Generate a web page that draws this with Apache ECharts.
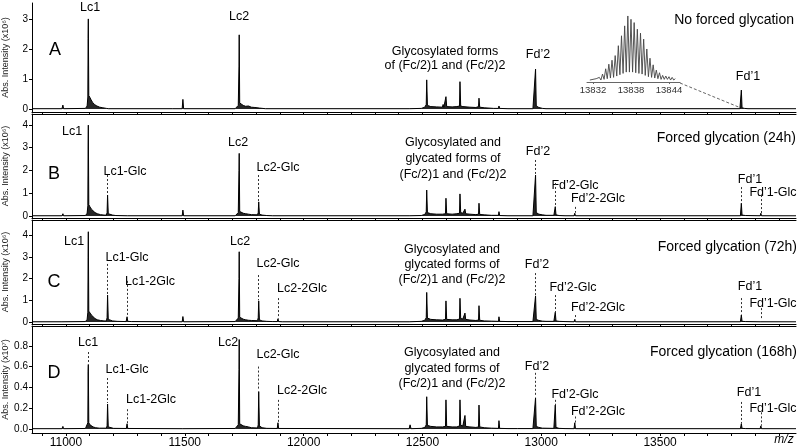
<!DOCTYPE html>
<html>
<head>
<meta charset="utf-8">
<script src="https://cdn.jsdelivr.net/npm/echarts@6/dist/echarts.min.js"></script>
<style>
  html, body { margin: 0; background: #fff; }
  #chart { width: 800px; height: 448px; }
</style>
</head>
<body>
<div id="chart"></div>
<script>
// m/z range shared by all four spectra
const MZ_MIN = 10857;
const MZ_MAX = 14072;
const mzLabels = [11000, 11500, 12000, 12500, 13000, 13500];
const mzTicks = [10900, 11000, 11100, 11200, 11300, 11400, 11500, 11600, 11700, 11800, 11900, 12000,
  12100, 12200, 12300, 12400, 12500, 12600, 12700, 12800, 12900, 13000, 13100, 13200, 13300, 13400,
  13500, 13600, 13700, 13800, 13900, 14000];

// spectra [m/z, intensity]
const specA = [
  [10858, 0.01],
  [10983, 0.01], [10987, 0.13], [10990, 0.01],
  [11082, 0.02], [11089, 0.1], [11092, 0.4], [11093, 2.35], [11094, 3.0], [11096, 0.45], [11101, 0.38],
  [11106, 0.3], [11112, 0.22], [11120, 0.15], [11130, 0.1], [11142, 0.06], [11155, 0.04], [11170, 0.02],
  [11174, 0.02], [11177, 0.05], [11180, 0.01],
  [11447, 0.01], [11450, 0.07], [11453, 0.01],
  [11489, 0.01], [11492, 0.32], [11495, 0.01],
  [11712, 0.01], [11720, 0.05], [11725, 0.12], [11728, 1.43], [11729, 2.47], [11731, 0.2], [11737, 0.14],
  [11746, 0.12], [11756, 0.09], [11768, 0.1], [11780, 0.06], [11795, 0.05], [11815, 0.03], [11840, 0.01],
  [12444, 0.01], [12448, 0.05], [12452, 0.01],
  [12495, 0.02], [12510, 0.06], [12516, 0.15], [12518, 0.97], [12521, 0.12], [12535, 0.08], [12560, 0.07],
  [12584, 0.06], [12587, 0.15], [12590, 0.06], [12597, 0.08], [12599, 0.41], [12602, 0.08], [12625, 0.07],
  [12645, 0.08], [12656, 0.1], [12658, 0.91], [12661, 0.1], [12670, 0.08], [12700, 0.06], [12725, 0.05],
  [12736, 0.08], [12738, 0.36], [12741, 0.06], [12760, 0.04], [12800, 0.02], [12820, 0.02], [12822, 0.1],
  [12825, 0.02], [12860, 0.01],
  [12965, 0.01], [12972, 0.06], [12976, 1.33], [12979, 0.1], [12990, 0.05], [13005, 0.02], [13020, 0.01],
  [13836, 0.01], [13839, 0.05], [13842, 0.63], [13845, 0.04], [13855, 0.02], [13870, 0.01],
  [14072, 0.01]
];

const specB = [
  [10858, 0.01],
  [10983, 0.01], [10987, 0.1], [10990, 0.01],
  [11082, 0.02], [11089, 0.12], [11092, 0.45], [11093, 2.94], [11094, 3.99], [11096, 0.5], [11101, 0.4],
  [11107, 0.3], [11114, 0.22], [11122, 0.15], [11132, 0.1], [11145, 0.06], [11160, 0.04],
  [11170, 0.04], [11173, 0.15], [11175, 0.92], [11178, 0.1], [11185, 0.07], [11196, 0.04], [11210, 0.02],
  [11258, 0.01], [11261, 0.05], [11264, 0.01],
  [11489, 0.01], [11492, 0.26], [11495, 0.01],
  [11712, 0.01], [11720, 0.05], [11725, 0.15], [11728, 2.0], [11729, 2.75], [11731, 0.2], [11737, 0.15],
  [11746, 0.12], [11756, 0.1], [11768, 0.08], [11780, 0.06],
  [11806, 0.05], [11809, 0.15], [11811, 0.62], [11814, 0.08], [11825, 0.04], [11845, 0.02], [11870, 0.01],
  [12444, 0.01], [12448, 0.05], [12452, 0.01],
  [12495, 0.02], [12510, 0.07], [12516, 0.18], [12518, 1.14], [12521, 0.15], [12535, 0.1], [12560, 0.08],
  [12584, 0.08], [12587, 0.12], [12590, 0.07], [12597, 0.1], [12599, 0.78], [12602, 0.1], [12625, 0.08],
  [12645, 0.1], [12656, 0.12], [12658, 0.97], [12661, 0.15], [12670, 0.12], [12677, 0.13], [12679, 0.3],
  [12682, 0.1], [12700, 0.08], [12725, 0.06], [12736, 0.08], [12738, 0.56], [12741, 0.07], [12760, 0.05],
  [12790, 0.03], [12820, 0.03], [12822, 0.19], [12825, 0.02], [12860, 0.01],
  [12965, 0.01], [12972, 0.08], [12976, 1.8], [12979, 0.15], [12990, 0.08], [13005, 0.05], [13020, 0.03],
  [13053, 0.03], [13056, 0.05], [13059, 0.41], [13062, 0.05], [13075, 0.02], [13100, 0.01],
  [13138, 0.01], [13141, 0.12], [13144, 0.01],
  [13838, 0.01], [13840, 0.05], [13842, 0.56], [13845, 0.04], [13860, 0.02],
  [13921, 0.01], [13924, 0.12], [13927, 0.01],
  [14072, 0.01]
];

const specC = [
  [10858, 0.01],
  [10983, 0.01], [10987, 0.1], [10990, 0.01],
  [11082, 0.02], [11089, 0.12], [11092, 0.45], [11093, 2.95], [11094, 4.15], [11096, 0.5], [11101, 0.42],
  [11107, 0.32], [11114, 0.24], [11122, 0.16], [11132, 0.1], [11145, 0.07], [11160, 0.05],
  [11170, 0.05], [11173, 0.2], [11175, 1.24], [11178, 0.12], [11185, 0.08], [11196, 0.05], [11215, 0.03],
  [11253, 0.02], [11255, 0.06], [11257, 0.24], [11260, 0.03], [11275, 0.02],
  [11489, 0.01], [11492, 0.25], [11495, 0.01],
  [11712, 0.02], [11720, 0.06], [11725, 0.18], [11728, 2.0], [11729, 3.23], [11731, 0.22], [11737, 0.16],
  [11746, 0.13], [11756, 0.1], [11768, 0.08], [11780, 0.07],
  [11806, 0.06], [11809, 0.2], [11811, 0.97], [11814, 0.1], [11825, 0.05], [11845, 0.03], [11870, 0.02],
  [11889, 0.02], [11892, 0.15], [11895, 0.02], [11910, 0.01],
  [12444, 0.01], [12448, 0.05], [12452, 0.01],
  [12495, 0.03], [12510, 0.08], [12516, 0.2], [12518, 1.36], [12521, 0.18], [12535, 0.12], [12560, 0.1],
  [12584, 0.09], [12587, 0.14], [12590, 0.08], [12597, 0.12], [12599, 0.97], [12602, 0.12], [12625, 0.1],
  [12645, 0.1], [12656, 0.14], [12658, 1.09], [12661, 0.16], [12670, 0.14], [12677, 0.15], [12679, 0.41],
  [12682, 0.12], [12700, 0.09], [12725, 0.07], [12736, 0.09], [12738, 0.75], [12741, 0.08], [12760, 0.05],
  [12790, 0.04], [12820, 0.03], [12822, 0.24], [12825, 0.03], [12860, 0.02],
  [12965, 0.02], [12972, 0.08], [12976, 1.2], [12979, 0.12], [12990, 0.07], [13005, 0.04], [13020, 0.03],
  [13053, 0.03], [13056, 0.06], [13059, 0.45], [13062, 0.05], [13075, 0.03], [13100, 0.02],
  [13138, 0.01], [13141, 0.12], [13144, 0.01],
  [13838, 0.01], [13840, 0.04], [13842, 0.32], [13845, 0.03], [13860, 0.02],
  [13921, 0.01], [13924, 0.1], [13927, 0.01],
  [14072, 0.01]
];

const specD = [
  [10858, 0.003],
  [10983, 0.003], [10987, 0.025], [10990, 0.003],
  [11082, 0.005], [11089, 0.02], [11092, 0.06], [11093, 0.55], [11094, 0.62], [11096, 0.06], [11101, 0.04],
  [11107, 0.03], [11114, 0.02], [11125, 0.012], [11140, 0.008],
  [11170, 0.008], [11173, 0.03], [11175, 0.24], [11178, 0.02], [11186, 0.012], [11200, 0.006],
  [11254, 0.005], [11257, 0.05], [11260, 0.005],
  [11489, 0.003], [11492, 0.02], [11495, 0.003],
  [11712, 0.005], [11720, 0.015], [11725, 0.04], [11728, 0.57], [11729, 0.86], [11731, 0.05], [11737, 0.035],
  [11746, 0.03], [11756, 0.025], [11768, 0.02], [11780, 0.012],
  [11806, 0.01], [11809, 0.04], [11811, 0.36], [11814, 0.03], [11825, 0.012], [11845, 0.006],
  [11889, 0.005], [11892, 0.06], [11895, 0.005],
  [12444, 0.003], [12448, 0.04], [12452, 0.003],
  [12495, 0.006], [12510, 0.015], [12516, 0.04], [12518, 0.31], [12521, 0.035], [12535, 0.025], [12560, 0.02],
  [12584, 0.02], [12587, 0.03], [12590, 0.02], [12597, 0.025], [12599, 0.28], [12602, 0.025], [12625, 0.02],
  [12645, 0.02], [12656, 0.03], [12658, 0.28], [12661, 0.035], [12670, 0.03], [12677, 0.035], [12679, 0.13],
  [12682, 0.025], [12700, 0.02], [12725, 0.015], [12736, 0.02], [12738, 0.23], [12741, 0.02], [12760, 0.012],
  [12790, 0.008], [12820, 0.006], [12822, 0.08], [12825, 0.006], [12860, 0.004],
  [12900, 0.004], [12903, 0.02], [12906, 0.004],
  [12965, 0.004], [12972, 0.02], [12976, 0.3], [12979, 0.025], [12990, 0.015], [13005, 0.008],
  [13053, 0.006], [13056, 0.015], [13059, 0.23], [13062, 0.015], [13075, 0.006], [13100, 0.004],
  [13138, 0.003], [13141, 0.06], [13144, 0.003],
  [13838, 0.003], [13840, 0.008], [13842, 0.05], [13845, 0.006], [13860, 0.004],
  [13921, 0.003], [13924, 0.03], [13927, 0.003],
  [14072, 0.003]
];

// isotope envelope of Fd'1 (inset, relative intensity)
const insetSpec = [
  [13831.5, 0.03], [13831.75, 0.02], [13832, 0.04], [13832.25, 0.02], [13832.5, 0.05], [13832.75, 0.03],
  [13833, 0.07], [13833.25, 0.03], [13833.5, 0.12], [13833.75, 0.04], [13834, 0.2], [13834.25, 0.05],
  [13834.5, 0.27], [13834.75, 0.06], [13835, 0.33], [13835.25, 0.07], [13835.5, 0.4], [13835.75, 0.09],
  [13836, 0.55], [13836.25, 0.11], [13836.5, 0.7], [13836.75, 0.13], [13837, 0.85], [13837.25, 0.15],
  [13837.5, 1.0], [13837.75, 0.15], [13838, 0.95], [13838.25, 0.15], [13838.5, 0.9], [13838.75, 0.14],
  [13839, 0.8], [13839.25, 0.13], [13839.5, 0.74], [13839.75, 0.12], [13840, 0.65], [13840.25, 0.1],
  [13840.5, 0.5], [13840.75, 0.08], [13841, 0.36], [13841.25, 0.07], [13841.5, 0.26], [13841.75, 0.06],
  [13842, 0.18], [13842.25, 0.05], [13842.5, 0.14], [13842.75, 0.04], [13843, 0.1], [13843.25, 0.04],
  [13843.5, 0.09], [13843.75, 0.04], [13844, 0.08], [13844.25, 0.03], [13844.5, 0.07], [13844.75, 0.03],
  [13845, 0.05]
];
const insetTicks = [13832, 13838, 13844];

// dashed leaders: [m/z, from, to]
const leadersB = [[11175, 1.8, 1.0], [11811, 1.8, 0.66], [12976, 2.46, 1.85], [13059, 1.45, 0.45],
  [13141, 0.4, 0.14], [13842, 1.27, 0.58], [13924, 0.92, 0.13]];
const leadersC = [[11175, 2.67, 1.26], [11257, 1.89, 0.26], [11811, 2.16, 1.0], [11892, 1.1, 0.16],
  [12976, 2.25, 1.22], [13059, 1.24, 0.46], [13141, 0.32, 0.13], [13842, 1.1, 0.34], [13924, 0.64, 0.11]];
const leadersD = [[11094, 0.74, 0.63], [11175, 0.49, 0.25], [11257, 0.19, 0.05], [11811, 0.6, 0.37],
  [11892, 0.28, 0.06], [12976, 0.54, 0.31], [13059, 0.28, 0.23], [13141, 0.12, 0.06], [13842, 0.26, 0.05],
  [13924, 0.16, 0.03]];

const yTicks = [[0, 1, 2, 3], [0, 1, 2, 3, 4], [0, 1, 2, 3, 4], [0, 0.2, 0.4, 0.6, 0.8]];
const yNames = ["Abs. Intensity (x10⁶)", "Abs. Intensity (x10⁶)", "Abs. Intensity (x10⁶)", "Abs. Intensity (x10⁷)"];

// annotation texts (pixel layout)
const annotations = [
  ["Lc1", 90, 8], ["Lc2", 239, 17], ["Glycosylated forms", 445, 52], ["of (Fc/2)1 and (Fc/2)2", 445, 66],
  ["Fd’2", 538, 55], ["Fd’1", 748, 77],
  ["Lc1", 72, 132], ["Lc1-Glc", 125, 172], ["Lc2", 238, 143], ["Lc2-Glc", 278, 168],
  ["Glycosylated and", 453, 143], ["glycated forms of", 453, 159], ["(Fc/2)1 and (Fc/2)2", 453, 175],
  ["Fd’2", 538, 152], ["Fd’2-Glc", 575, 186], ["Fd’2-2Glc", 598, 199], ["Fd’1", 750, 180], ["Fd’1-Glc", 773, 193],
  ["Lc1", 74, 242], ["Lc1-Glc", 127, 258], ["Lc1-2Glc", 150, 282], ["Lc2", 240, 242], ["Lc2-Glc", 278, 264],
  ["Lc2-2Glc", 302, 289], ["Glycosylated and", 452, 250], ["glycated forms of", 452, 265],
  ["(Fc/2)1 and (Fc/2)2", 452, 280], ["Fd’2", 537, 265], ["Fd’2-Glc", 573, 288], ["Fd’2-2Glc", 598, 308],
  ["Fd’1", 750, 287], ["Fd’1-Glc", 773, 304],
  ["Lc1", 88, 343], ["Lc1-Glc", 127, 370], ["Lc1-2Glc", 151, 400], ["Lc2", 228, 343], ["Lc2-Glc", 278, 355],
  ["Lc2-2Glc", 302, 391], ["Glycosylated and", 452, 353], ["glycated forms of", 452, 369],
  ["(Fc/2)1 and (Fc/2)2", 452, 384], ["Fd’2", 537, 367], ["Fd’2-Glc", 575, 395], ["Fd’2-2Glc", 598, 412],
  ["Fd’1", 749, 393], ["Fd’1-Glc", 773, 409]
];
const letters = [["A", 55, 50], ["B", 54, 174], ["C", 54, 282], ["D", 54, 373]];
const titles = [["No forced glycation", 794, 20], ["Forced glycation (24h)", 796, 138],
  ["Forced glycation (72h)", 797, 247], ["Forced glycation (168h)", 797, 352]];

const FONT = "Liberation Sans, Arial, sans-serif";
const chart = echarts.init(document.getElementById("chart"), null, { renderer: "canvas" });

const panelGrids = [
  { top: 3, height: 109 },
  { top: 114, height: 104 },
  { top: 220, height: 104 },
  { top: 326, height: 107 },
];
const yMin = [-0.1, -0.088, -0.092, -0.0385];
const yMax = [3.53, 4.48, 4.69, 0.99];
const specs = [specA, specB, specC, specD];
const leaders = [[], leadersB, leadersC, leadersD];

const grid = panelGrids.map((g) => ({
  left: 32, width: 764, top: g.top, height: g.height, containLabel: false, outerBoundsMode: "none",
}));
grid.push({ left: 587, top: 14, width: 93, height: 68, containLabel: false, outerBoundsMode: "none" });

const plain = (v) => String(v);

const xAxis = panelGrids.map((g, i) => ({
  type: "value",
  gridIndex: i,
  min: MZ_MIN,
  max: MZ_MAX,
  position: "bottom",
  axisLine: { show: true, onZero: false, lineStyle: { color: "#000", width: 1 } },
  axisTick: { show: true, length: i === 3 ? 3 : 2, customValues: mzTicks, lineStyle: { color: "#000" } },
  axisLabel: { show: i === 3, customValues: mzLabels, formatter: plain, fontSize: 12, color: "#000", margin: 4, fontFamily: FONT },
  splitLine: { show: false },
}));
// top border lines of panels B-D
[1, 2, 3].forEach((i) => {
  xAxis.push({
    type: "value",
    gridIndex: i,
    min: MZ_MIN,
    max: MZ_MAX,
    position: "top",
    axisLine: { show: true, onZero: false, lineStyle: { color: "#000", width: 1 } },
    axisTick: { show: false },
    axisLabel: { show: false },
    splitLine: { show: false },
  });
});
// inset axis
xAxis.push({
  type: "value",
  gridIndex: 4,
  min: 13831.05,
  max: 13845.74,
  axisLine: { show: true, onZero: false, lineStyle: { color: "#666" } },
  axisTick: { show: true, length: 2, customValues: insetTicks, lineStyle: { color: "#666" } },
  axisLabel: { customValues: insetTicks, formatter: plain, fontSize: 9.5, color: "#333", margin: 3, fontFamily: FONT },
  splitLine: { show: false },
});

const yAxis = panelGrids.map((g, i) => ({
  type: "value",
  gridIndex: i,
  min: yMin[i],
  max: yMax[i],
  axisLine: { show: true, onZero: false, lineStyle: { color: "#000" } },
  axisTick: { show: true, length: 3, customValues: yTicks[i], lineStyle: { color: "#000" } },
  axisLabel: {
    customValues: yTicks[i],
    fontSize: 10,
    color: "#000",
    margin: 4,
    fontFamily: FONT,
    formatter: i === 3 ? (v) => v.toFixed(1) : plain,
  },
  splitLine: { show: false },
  name: yNames[i],
  nameLocation: "middle",
  nameGap: 22,
  nameMoveOverlap: false,
  nameTruncate: { maxWidth: 200 },
  nameTextStyle: { fontSize: 9, color: "#222", fontFamily: FONT },
}));
yAxis.push({ type: "value", gridIndex: 4, min: 0, max: 1.03, show: false });

const series = specs.map((spec, i) => ({
  type: "line",
  xAxisIndex: i,
  yAxisIndex: i,
  data: spec,
  symbol: "none",
  lineStyle: { color: "#000", width: 1 },
  areaStyle: { color: "#000", opacity: 0.85 },
  silent: true,
  markLine: {
    silent: true,
    symbol: ["none", "none"],
    label: { show: false },
    lineStyle: { type: [2, 2], color: "#333", width: 1 },
    data: leaders[i].map(([mz, a, b]) => [{ coord: [mz, a] }, { coord: [mz, b] }]),
  },
}));
series.push({
  type: "line",
  xAxisIndex: 7,
  yAxisIndex: 4,
  data: insetSpec,
  symbol: "none",
  lineStyle: { color: "#444", width: 0.9 },
  silent: true,
});

const graphic = [];
annotations.forEach(([t, x, y]) => {
  graphic.push({ type: "text", x, y, silent: true,
    style: { text: t, font: `12.5px ${FONT}`, fill: "#000", align: "center", verticalAlign: "middle" } });
});
letters.forEach(([t, x, y]) => {
  graphic.push({ type: "text", x, y, silent: true,
    style: { text: t, font: `18px ${FONT}`, fill: "#000", align: "center", verticalAlign: "middle" } });
});
titles.forEach(([t, x, y]) => {
  graphic.push({ type: "text", x, y, silent: true,
    style: { text: t, font: `14px ${FONT}`, fill: "#000", align: "right", verticalAlign: "middle" } });
});
graphic.push({ type: "text", x: 784, y: 440, silent: true,
  style: { text: "m/z", font: `italic 12px ${FONT}`, fill: "#000", align: "center", verticalAlign: "middle" } });
// dashed connector from inset to the Fd'1 peak
graphic.push({ type: "line", silent: true, shape: { x1: 680, y1: 83, x2: 741, y2: 108 },
  style: { stroke: "#666", lineWidth: 1, lineDash: [3, 2] } });

chart.setOption({
  backgroundColor: "#fff",
  animation: false,
  grid,
  xAxis,
  yAxis,
  series,
  graphic,
});
</script>
</body>
</html>
